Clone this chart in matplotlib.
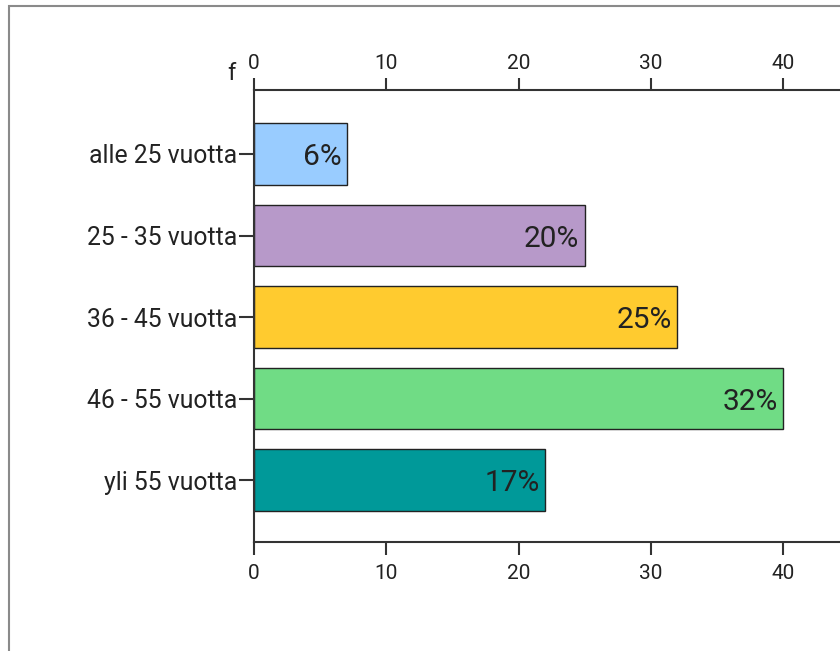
import matplotlib
matplotlib.use("Agg")
from matplotlib import pyplot as plt
from matplotlib.patches import Rectangle
from matplotlib.transforms import ScaledTranslation
import numpy as np

# ikäryhmät ja frekvenssit
ryhmat = ["alle 25 vuotta", "25 - 35 vuotta", "36 - 45 vuotta", "46 - 55 vuotta", "yli 55 vuotta"]
frekvenssit = [7, 25, 32, 40, 22]
varit = ["#99CCFF", "#B799C9", "#FFCB2F", "#70DC85", "#009999"]
x_tikit = [0, 10, 20, 30, 40]

plt.rcParams['font.family'] = ['Roboto', 'DejaVu Sans']

fig = plt.figure(figsize=(8.4, 6.51), dpi=100)

# kehys kuvan ympärillä
fig.patches.append(Rectangle((8.5 / 840, -0.1), 1.2, (1 - 5.5 / 651) + 0.1,
                             transform=fig.transFigure, fill=False,
                             edgecolor="#8a8a8a", linewidth=1.5))

ax = fig.add_axes([254 / 840, 1 - 542 / 651, 50 * 13.225 / 840, (542 - 90) / 651])

y = np.arange(len(ryhmat))
ax.barh(y, frekvenssit, height=0.75, color=varit, edgecolor="#222222", linewidth=1.0, zorder=2)

yhteensa = sum(frekvenssit)
for yi, f in zip(y, frekvenssit):
    pros = f / yhteensa * 100
    ax.text(f - 0.4, yi + 0.04, "%d%%" % round(pros), ha="right", va="center",
            fontsize=21.5, color="#222222", zorder=3)

ax.set_xlim(0, 50)
ax.set_ylim(4.76, -0.785)
ax.set_yticks(y)
ax.set_yticklabels(ryhmat, fontsize=17.8, color="#222222")
ax.set_xticks(x_tikit)
ax.tick_params(axis="x", top=True, labeltop=True, bottom=True, labelbottom=True,
               length=9, width=1.5, color="#333333", labelsize=15, labelcolor="#222222", pad=3)
ax.tick_params(axis="y", length=11, width=1.5, color="#333333", pad=1)
# alemmat tikkitekstit hieman kauemmas akselista
siirto = ScaledTranslation(0, -4 / 72, fig.dpi_scale_trans)
for t in ax.xaxis.get_major_ticks():
    t.label1.set_transform(t.label1.get_transform() + siirto)

for s in ["left", "top", "bottom", "right"]:
    ax.spines[s].set_color("#333333")
    ax.spines[s].set_linewidth(1.5)

ax.text(-0.028, 1.012, "f", transform=ax.transAxes, ha="right", va="bottom",
        fontsize=17, color="#222222")

fig.savefig("out.png", dpi=100)
